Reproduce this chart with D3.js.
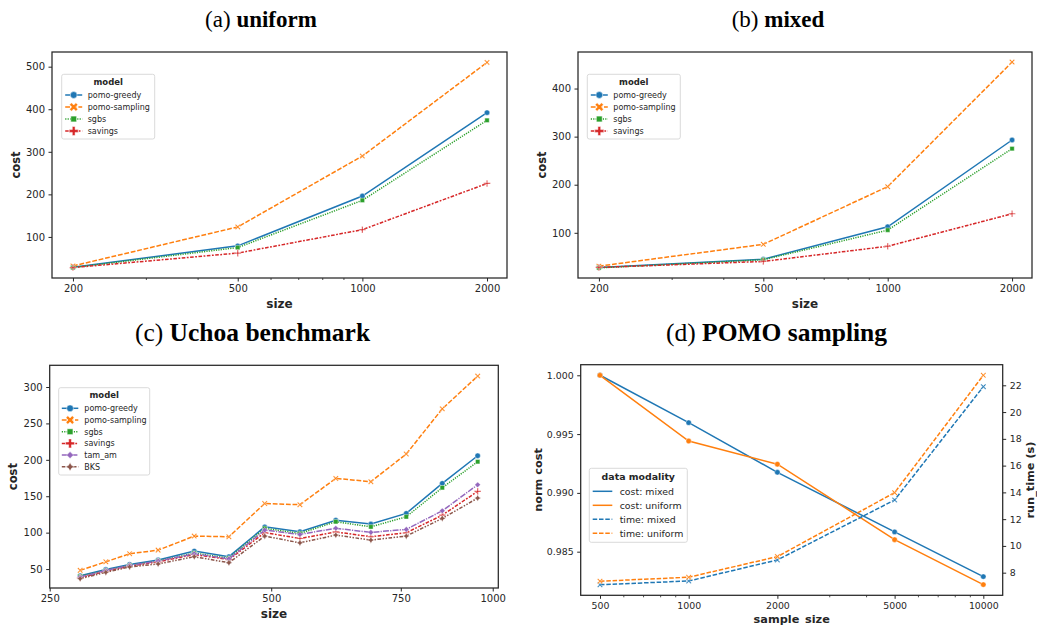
<!DOCTYPE html>
<html>
<head>
<meta charset="utf-8">
<script src="https://cdn.jsdelivr.net/npm/d3@7"></script>
<style>
  body { margin: 0; background: #fff; }
  text { font-family: "DejaVu Sans", sans-serif; fill: #262626; }
</style>
</head>
<body>
<script>
var width = 1037;
var height = 625;

// (a) uniform / (b) mixed
var sizes = [200, 500, 1000, 2000];
var uniGreedy = [28.7, 79, 196, 392];
var uniSampling = [31.8, 123.5, 290, 510];
var uniSgbs = [28, 75, 186, 374];
var uniSavings = [28, 62, 117, 225.6];
var mixGreedy = [28, 45, 112.5, 293];
var mixSampling = [30.6, 76, 196, 455];
var mixSgbs = [27, 44, 105.6, 275];
var mixSavings = [27.9, 40.4, 72, 139.6];
var sizeTicks = [200, 500, 1000, 2000];
var uniYTicks = [100, 200, 300, 400, 500];
var mixYTicks = [100, 200, 300, 400];

// (c) Uchoa benchmark
var uchoaSize = [275, 298, 321, 351, 393, 438, 490, 547, 612, 683, 763, 854, 954];
var uchoaGreedy = [40.8, 49.5, 56.4, 62.4, 74.7, 67, 108, 101.3, 117, 111.8, 126.5, 167.7, 205.6];
var uchoaSampling = [48.2, 60, 71, 76, 95.3, 94.4, 140, 138.4, 174.5, 170, 208, 270, 315];
var uchoaSgbs = [40, 48, 55, 61, 72, 65, 105.9, 99, 115, 108, 121.8, 161.7, 197.4];
var uchoaSavings = [38, 47, 54, 60, 70, 63, 100, 92, 101, 94.4, 99.9, 124, 156.7];
var uchoaTam = [39, 48, 55, 61, 71, 64, 103.5, 97.6, 106, 100.4, 104.5, 130, 165.8];
var uchoaBKS = [36.8, 45.5, 53, 57, 67, 58.7, 95.3, 86, 96.7, 89.8, 95.3, 119.6, 147.5];
var uchoaXTicks = [250, 500, 750, 1000];
var uchoaYTicks = [50, 100, 150, 200, 250, 300];

// (d) POMO sampling
var sampleSizes = [500, 1000, 2000, 5000, 10000];
var costMixed = [1.0, 0.99597, 0.99175, 0.98668, 0.98288];
var costUniform = [1.0, 0.99441, 0.99244, 0.98602, 0.9822];
var timeMixed = [7.1, 7.38, 8.95, 13.43, 21.9];
var timeUniform = [7.36, 7.66, 9.2, 13.98, 22.75];
var sampleTicks = [500, 1000, 2000, 5000, 10000];
var costTicks = [0.985, 0.99, 0.995, 1.0];
var timeTicks = [8, 10, 12, 14, 16, 18, 20, 22];

var models = ["pomo-greedy", "pomo-sampling", "sgbs", "savings", "tam_am", "BKS"];
var colors = ["#1f77b4", "#ff7f0e", "#2ca02c", "#d62728", "#9467bd", "#8c564b"];
var dashes = ["", "4.8,1.8", "1.2,1.2", "3.6,1.5,1.8,1.5", "6,1.2,1.2,1.2", "3.6,1.5,1.5,1.5,1.5,1.5"];
var markers = ["o", "X", "s", "P", "D", "star"];
var dark = "#262626";

var svg = d3.select("body").append("svg")
  .attr("width", width)
  .attr("height", height);

// marker shapes
function markerPath(type, s, a) {
  if (type === "o") {
    return "M" + s + ",0A" + s + "," + s + " 0 1,1 " + (-s) + ",0A" + s + "," + s + " 0 1,1 " + s + ",0Z";
  }
  if (type === "s") {
    return "M" + (-s) + "," + (-s) + "H" + s + "V" + s + "H" + (-s) + "Z";
  }
  if (type === "D") {
    return "M0," + (-s) + "L" + s + ",0L0," + s + "L" + (-s) + ",0Z";
  }
  if (type === "star") {
    var w = s * 0.35;
    return "M0," + (-s) + "L" + w + "," + (-w) + "L" + s + ",0L" + w + "," + w +
      "L0," + s + "L" + (-w) + "," + w + "L" + (-s) + ",0L" + (-w) + "," + (-w) + "Z";
  }
  // plus / X polygon
  var pts = [[-a, -s], [a, -s], [a, -a], [s, -a], [s, a], [a, a], [a, s], [-a, s], [-a, a], [-s, a], [-s, -a], [-a, -a]];
  if (type === "X") {
    var c = Math.SQRT1_2;
    pts = pts.map(function (p) { return [(p[0] - p[1]) * c, (p[0] + p[1]) * c]; });
  }
  return "M" + pts.map(function (p) { return p[0].toFixed(2) + "," + p[1].toFixed(2); }).join("L") + "Z";
}

function plotMarkerSize(type) {
  if (type === "o") return [2.7, 0];
  if (type === "s") return [2.2, 0];
  if (type === "D") return [2.8, 0];
  if (type === "star") return [3.3, 0];
  return [3.3, 0.6];
}

function legendMarkerSize(type) {
  if (type === "o") return [3.4, 0];
  if (type === "s") return [2.9, 0];
  if (type === "D") return [3.5, 0];
  if (type === "star") return [4.3, 0];
  return [4.5, 1.4];
}

function frame(g, box) {
  g.append("rect")
    .attr("x", box.x0).attr("y", box.y0)
    .attr("width", box.x1 - box.x0).attr("height", box.y1 - box.y0)
    .attr("fill", "none").attr("stroke", dark).attr("stroke-width", 1.25);
}

function styleAxis(sel, fs) {
  sel.select(".domain").remove();
  sel.selectAll(".tick line").attr("stroke", dark).attr("stroke-width", 1);
  sel.selectAll(".tick text").attr("fill", dark).style("font-size", fs + "px")
    .style("font-family", "DejaVu Sans");
}

function minorTicks(g, scale, y, vals) {
  var ax = g.append("g").attr("transform", "translate(0," + y + ")")
    .call(d3.axisBottom(scale).tickValues(vals).tickSize(2).tickFormat(""));
  ax.select(".domain").remove();
  ax.selectAll(".tick line").attr("stroke", dark).attr("stroke-width", 0.8);
}

function drawSeries(g, xs, ys, xv, yv, i, markerOverride, dashOverride) {
  var pts = xv.map(function (x, k) { return [x, yv[k]]; });
  var dash = dashOverride !== undefined ? dashOverride : dashes[i];
  g.append("path")
    .datum(pts)
    .attr("fill", "none")
    .attr("stroke", colors[i])
    .attr("stroke-width", 1.5)
    .attr("stroke-dasharray", dash || null)
    .attr("d", d3.line().x(function (d) { return xs(d[0]); }).y(function (d) { return ys(d[1]); }));
  var mk = markerOverride || markers[i];
  var sz = plotMarkerSize(mk);
  g.selectAll(null)
    .data(pts)
    .enter()
    .append("path")
    .attr("transform", function (d) { return "translate(" + xs(d[0]) + "," + ys(d[1]) + ")"; })
    .attr("d", markerPath(mk, sz[0], sz[1]))
    .attr("fill", colors[i])
    .attr("stroke", "#fff")
    .attr("stroke-width", 0.4);
}

function legend(g, L, entries) {
  g.append("rect")
    .attr("x", L.x).attr("y", L.y)
    .attr("width", L.w).attr("height", L.h)
    .attr("rx", 2)
    .attr("fill", "#fff").attr("fill-opacity", 0.85)
    .attr("stroke", "#d0d0d0").attr("stroke-width", 0.8);
  g.append("text")
    .attr("x", L.x + L.w / 2).attr("y", L.titleY)
    .attr("text-anchor", "middle").attr("dy", "0.35em")
    .style("font-size", L.tfs + "px").style("font-weight", "bold")
    .text(L.title);
  entries.forEach(function (e, k) {
    var y = L.rowY + k * L.step;
    g.append("line")
      .attr("x1", L.hx0).attr("x2", L.hx1).attr("y1", y).attr("y2", y)
      .attr("stroke", e.color).attr("stroke-width", 1.5)
      .attr("stroke-dasharray", e.dash || null);
    if (e.marker) {
      var sz = legendMarkerSize(e.marker);
      g.append("path")
        .attr("transform", "translate(" + ((L.hx0 + L.hx1) / 2) + "," + y + ")")
        .attr("d", markerPath(e.marker, sz[0], sz[1]))
        .attr("fill", e.color).attr("stroke", "#fff").attr("stroke-width", 0.5);
    }
    g.append("text")
      .attr("x", L.tx).attr("y", y).attr("dy", "0.35em")
      .style("font-size", L.fs + "px")
      .text(e.label);
  });
}

function title(x, y, fs, prefix, bold) {
  var t = svg.append("text")
    .attr("x", x).attr("y", y)
    .attr("text-anchor", "middle")
    .style("font-family", "Liberation Serif, serif")
    .style("font-size", fs + "px")
    .style("fill", "#000");
  t.append("tspan").text(prefix);
  t.append("tspan").style("font-weight", "bold").text(bold);
}

function axisLabelX(g, x, y, txt, fs) {
  g.append("text").attr("x", x).attr("y", y).attr("text-anchor", "middle")
    .style("font-size", fs + "px").style("font-weight", "bold").text(txt);
}

function axisLabelY(g, x, y, txt, fs) {
  g.append("text").attr("transform", "translate(" + x + "," + y + ") rotate(-90)")
    .attr("text-anchor", "middle").attr("dy", "0.35em")
    .style("font-size", fs + "px").style("font-weight", "bold").text(txt);
}

// panels (a) and (b)
function sizePanel(box, yDomain, yTicks, series, legendX) {
  var g = svg.append("g");
  var xs = d3.scaleLog().domain([178, 2235]).range([box.x0, box.x1]);
  var ys = d3.scaleLinear().domain(yDomain).range([box.y1, box.y0]);
  var ax = g.append("g").attr("transform", "translate(0," + box.y1 + ")")
    .call(d3.axisBottom(xs).tickValues(sizeTicks).tickFormat(d3.format("d")).tickSizeInner(3.5).tickSizeOuter(0).tickPadding(3.5));
  styleAxis(ax, 10);
  minorTicks(g, xs, box.y1, [300, 400, 600, 700, 800, 900]);
  var ay = g.append("g").attr("transform", "translate(" + box.x0 + ",0)")
    .call(d3.axisLeft(ys).tickValues(yTicks).tickFormat(d3.format("d")).tickSizeInner(3.5).tickSizeOuter(0).tickPadding(3.5));
  styleAxis(ay, 10);
  series.forEach(function (s, i) { drawSeries(g, xs, ys, sizes, s, i); });
  frame(g, box);
  axisLabelX(g, (box.x0 + box.x1) / 2, box.y1 + 30, "size", 12);
  axisLabelY(g, box.x0 - 36.5, (box.y0 + box.y1) / 2, "cost", 11.5);
  legend(g, {
    x: legendX, y: 74.3, w: 93, h: 64.7, title: "model", titleY: 82, fs: 8, tfs: 8.5,
    rowY: 95, step: 12, hx0: legendX + 3.5, hx1: legendX + 20.5, tx: legendX + 26
  }, models.slice(0, 4).map(function (m, i) {
    return { label: m, color: colors[i], dash: dashes[i], marker: markers[i] };
  }));
}

sizePanel({ x0: 52, x1: 507, y0: 52, y1: 278 }, [3.5, 534.5], uniYTicks,
  [uniGreedy, uniSampling, uniSgbs, uniSavings], 61.7);
sizePanel({ x0: 578, x1: 1032, y0: 52, y1: 278 }, [6, 476], mixYTicks,
  [mixGreedy, mixSampling, mixSgbs, mixSavings], 587.3);

// panel (c)
(function () {
  var box = { x0: 49.7, x1: 498.3, y0: 365.3, y1: 588 };
  var g = svg.append("g");
  var xs = d3.scaleLog().domain([250, 1017.6]).range([box.x0, box.x1]);
  var ys = d3.scaleLinear().domain([24, 329.8]).range([box.y1, box.y0]);
  var ax = g.append("g").attr("transform", "translate(0," + box.y1 + ")")
    .call(d3.axisBottom(xs).tickValues(uchoaXTicks).tickFormat(d3.format("d")).tickSizeInner(3.5).tickSizeOuter(0).tickPadding(3.5));
  styleAxis(ax, 10);
  var ay = g.append("g").attr("transform", "translate(" + box.x0 + ",0)")
    .call(d3.axisLeft(ys).tickValues(uchoaYTicks).tickFormat(d3.format("d")).tickSizeInner(3.5).tickSizeOuter(0).tickPadding(3.5));
  styleAxis(ay, 10);
  [uchoaGreedy, uchoaSampling, uchoaSgbs, uchoaSavings, uchoaTam, uchoaBKS].forEach(function (s, i) {
    drawSeries(g, xs, ys, uchoaSize, s, i);
  });
  frame(g, box);
  axisLabelX(g, (box.x0 + box.x1) / 2, box.y1 + 30, "size", 12);
  axisLabelY(g, 12.7, (box.y0 + box.y1) / 2, "cost", 11.5);
  legend(g, {
    x: 58.7, y: 387.7, w: 91, h: 87.3, title: "model", titleY: 394.7, fs: 8, tfs: 8.5,
    rowY: 408.3, step: 11.7, hx0: 61.8, hx1: 78.3, tx: 84.3
  }, models.map(function (m, i) {
    return { label: m, color: colors[i], dash: dashes[i], marker: markers[i] };
  }));
})();

// panel (d)
(function () {
  var box = { x0: 580.7, x1: 1002.7, y0: 364.7, y1: 595.3 };
  var g = svg.append("g");
  var xs = d3.scaleLog().domain([430, 11636]).range([box.x0, box.x1]);
  var yl = d3.scaleLinear().domain([0.98129, 1.0009]).range([box.y1, box.y0]);
  var yr = d3.scaleLinear().domain([6.31, 23.54]).range([box.y1, box.y0]);
  var ax = g.append("g").attr("transform", "translate(0," + box.y1 + ")")
    .call(d3.axisBottom(xs).tickValues(sampleTicks).tickFormat(d3.format("d")).tickSizeInner(3.5).tickSizeOuter(0).tickPadding(3.5));
  styleAxis(ax, 9.4);
  minorTicks(g, xs, box.y1, [600, 700, 800, 900, 3000, 4000, 6000, 7000, 8000, 9000]);
  var ay = g.append("g").attr("transform", "translate(" + box.x0 + ",0)")
    .call(d3.axisLeft(yl).tickValues(costTicks).tickFormat(d3.format(".3f")).tickSizeInner(3.5).tickSizeOuter(0).tickPadding(3.5));
  styleAxis(ay, 9.4);
  var ar = g.append("g").attr("transform", "translate(" + box.x1 + ",0)")
    .call(d3.axisRight(yr).tickValues(timeTicks).tickFormat(d3.format("d")).tickSizeInner(3.5).tickSizeOuter(0).tickPadding(3.5));
  styleAxis(ar, 9.4);
  drawSeries(g, xs, yl, sampleSizes, costMixed, 0, "o", "");
  drawSeries(g, xs, yl, sampleSizes, costUniform, 1, "o", "");
  drawSeries(g, xs, yr, sampleSizes, timeMixed, 0, "X", "4.5,1.8");
  drawSeries(g, xs, yr, sampleSizes, timeUniform, 1, "X", "4.5,1.8");
  frame(g, box);
  axisLabelX(g, (box.x0 + box.x1) / 2, box.y1 + 27.5, "sample_size", 11.3);
  axisLabelY(g, 538, (box.y0 + box.y1) / 2, "norm cost", 11.3);
  axisLabelY(g, 1030, (box.y0 + box.y1) / 2, "run_time (s)", 11.3);
  legend(g, {
    x: 589.3, y: 468.3, w: 98, h: 74, title: "data modality", titleY: 476.7, fs: 9.4, tfs: 9.4,
    rowY: 491.3, step: 14, hx0: 592.7, hx1: 612.3, tx: 619.7
  }, [
    { label: "cost: mixed", color: colors[0], dash: "" },
    { label: "cost: uniform", color: colors[1], dash: "" },
    { label: "time: mixed", color: colors[0], dash: "4.5,1.8" },
    { label: "time: uniform", color: colors[1], dash: "4.5,1.8" }
  ]);
})();

title(261, 26.5, 23, "(a) ", "uniform");
title(778, 26.5, 23, "(b) ", "mixed");
title(252.5, 341, 25.5, "(c) ", "Uchoa benchmark");
title(776.5, 341, 25.5, "(d) ", "POMO sampling");
</script>
</body>
</html>
